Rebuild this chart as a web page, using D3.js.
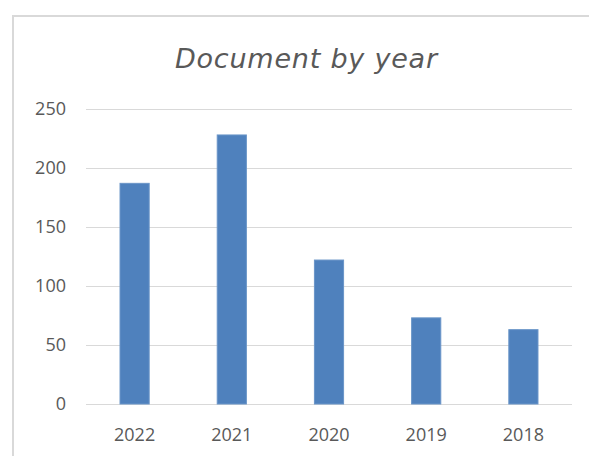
<!DOCTYPE html>
<html>
<head>
<meta charset="utf-8">
<script src="https://cdn.jsdelivr.net/npm/d3@7"></script>
<style>
  body { margin: 0; background: #fff; }
  text { font-family: "Open Sans", sans-serif; fill: #595959; }
</style>
</head>
<body>
<svg id="chart" width="589" height="456"></svg>
<script>
// Data
var years = ["2022", "2021", "2020", "2019", "2018"];
var documents = [187, 228, 122, 73, 63];
var yTicks = [0, 50, 100, 150, 200, 250];
var title = "Document by year";

var svg = d3.select("#chart");

// chart area frame (runs off the right/bottom edge)
svg.append("path")
  .attr("d", "M13,470 V16 H600")
  .attr("fill", "none")
  .attr("stroke", "#d9d9d9")
  .attr("stroke-width", 2);

var plot = { left: 86, right: 572, top: 109, bottom: 404 };

var x = d3.scaleBand()
  .domain(years)
  .range([plot.left, plot.right])
  .paddingInner(0.7)
  .paddingOuter(0.35);

var y = d3.scaleLinear()
  .domain([0, 250])
  .range([plot.bottom, plot.top]);

// gridlines
svg.append("g")
  .selectAll("line")
  .data(yTicks)
  .join("line")
  .attr("x1", plot.left)
  .attr("x2", plot.right)
  .attr("y1", function(d) { return Math.round(y(d)) + 0.5; })
  .attr("y2", function(d) { return Math.round(y(d)) + 0.5; })
  .attr("stroke", "#d9d9d9")
  .attr("stroke-width", 1);

// y labels
svg.append("g")
  .selectAll("text")
  .data(yTicks)
  .join("text")
  .attr("x", 66)
  .attr("y", function(d) { return y(d); })
  .attr("dy", "0.35em")
  .attr("text-anchor", "end")
  .style("font-size", "18px")
  .text(function(d) { return d; });

// bars
svg.append("g")
  .selectAll("rect")
  .data(documents)
  .join("rect")
  .attr("x", function(d, i) { return x(years[i]); })
  .attr("width", x.bandwidth())
  .attr("y", function(d) { return y(d); })
  .attr("height", function(d) { return y(0) - y(d); })
  .attr("fill", "#4f81bd")
  .attr("stroke", "#6a95c8")
  .attr("stroke-width", 1);

// x labels
svg.append("g")
  .selectAll("text")
  .data(years)
  .join("text")
  .attr("x", function(d) { return x(d) + x.bandwidth() / 2; })
  .attr("y", 441)
  .attr("text-anchor", "middle")
  .style("font-size", "18px")
  .text(function(d) { return d; });

// title
svg.append("text")
  .attr("x", 306)
  .attr("y", 68)
  .attr("text-anchor", "middle")
  .attr("textLength", 262)
  .attr("lengthAdjust", "spacing")
  .style("font-family", "'DejaVu Sans', sans-serif")
  .style("font-size", "27px")
  .style("font-style", "italic")
  .text(title);
</script>
</body>
</html>
